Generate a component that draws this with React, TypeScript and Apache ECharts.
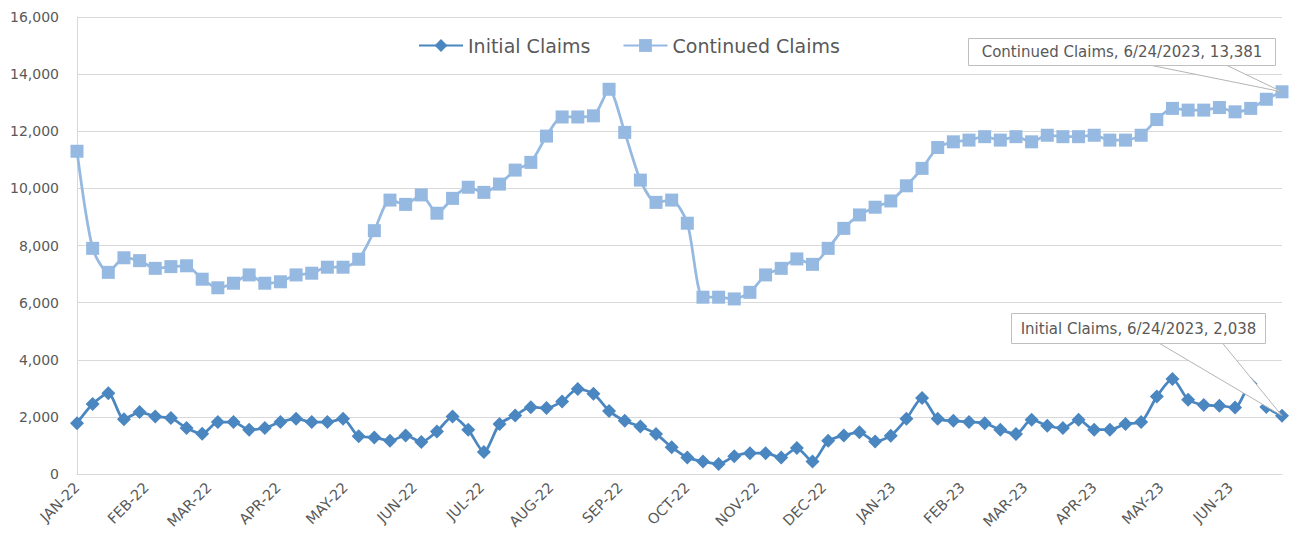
import React, { useEffect, useRef } from "react";
import * as echarts from "echarts";

// ---- data ----
const startDate = "2022-01-01";
const lastDateLabel = "6/24/2023";
const seriesNames = ["Initial Claims", "Continued Claims"];

const initialClaims = [
  1780, 2450, 2830, 1920, 2170, 2010, 1960, 1610, 1410, 1820,
  1820, 1550, 1610, 1820, 1930, 1820, 1820, 1930, 1320, 1280,
  1160, 1350, 1120, 1490, 2010, 1550, 770, 1750, 2050, 2340,
  2310, 2540, 2980, 2810, 2210, 1860, 1660, 1400, 940, 580,
  440, 350, 620, 730, 730, 580, 910, 440, 1160, 1350,
  1460, 1140, 1340, 1930, 2660, 1930, 1860, 1820, 1780, 1550,
  1400, 1900, 1690, 1610, 1900, 1550, 1550, 1750, 1820, 2710,
  3330, 2600, 2420, 2390, 2330, 3150, 2350, 2038,
];

const continuedClaims = [
  11300, 7900, 7060, 7570, 7470, 7200, 7260, 7290, 6820, 6520,
  6680, 6970, 6680, 6730, 6970, 7030, 7240, 7240, 7520, 8520,
  9590, 9440, 9770, 9130, 9650, 10040, 9860, 10150, 10640, 10910,
  11830, 12500, 12500, 12540, 13470, 11960, 10290, 9510, 9590, 8780,
  6190, 6190, 6130, 6360, 6970, 7200, 7530, 7340, 7900, 8600,
  9070, 9340, 9560, 10090, 10700, 11430, 11630, 11690, 11810, 11690,
  11810, 11630, 11860, 11810, 11810, 11860, 11690, 11690, 11860, 12410,
  12800, 12740, 12740, 12830, 12680, 12800, 13120, 13381,
];

const monthStarts = [
  "2022-01-01", "2022-02-01", "2022-03-01", "2022-04-01", "2022-05-01", "2022-06-01",
  "2022-07-01", "2022-08-01", "2022-09-01", "2022-10-01", "2022-11-01", "2022-12-01",
  "2023-01-01", "2023-02-01", "2023-03-01", "2023-04-01", "2023-05-01", "2023-06-01",
];
const monthLabels = [
  "JAN-22", "FEB-22", "MAR-22", "APR-22", "MAY-22", "JUN-22",
  "JUL-22", "AUG-22", "SEP-22", "OCT-22", "NOV-22", "DEC-22",
  "JAN-23", "FEB-23", "MAR-23", "APR-23", "MAY-23", "JUN-23",
];

const yMin = 0;
const yMax = 16000;
const yInterval = 2000;

// ---- helpers ----
const DAY = 86400000;
const dayOffset = (iso: string) =>
  Math.round((Date.parse(iso + "T00:00:00Z") - Date.parse(startDate + "T00:00:00Z")) / DAY);
const weekX = (i: number) => i * 7;
const monthOffsets = monthStarts.map(dayOffset);
const fmt = (v: number) => v.toLocaleString("en-US");

const FONT = '"DejaVu Sans", sans-serif';
const TEXT = "#595959";
const GRID = "#d9d9d9";
const C_INIT = "#4A86C0";
const C_CONT = "#95B9E1";

export default function App() {
  const ref = useRef<HTMLDivElement>(null);

  useEffect(() => {
    if (!ref.current) return;
    const chart = echarts.init(ref.current, undefined, { renderer: "svg" });
    const lastIdx = continuedClaims.length - 1;
    const xMax = weekX(lastIdx);

    chart.setOption({
      animation: false,
      backgroundColor: "#ffffff",
      textStyle: { fontFamily: FONT },
      grid: { left: 77, right: 7, top: 17, bottom: 70, containLabel: false, outerBoundsMode: "none" },
      legend: {
        left: 413,
        top: 31,
        itemWidth: 44,
        itemHeight: 16,
        itemGap: 32,
        textStyle: { fontSize: 19, color: TEXT, fontFamily: FONT },
        data: seriesNames,
      },
      xAxis: {
        type: "value",
        min: 0,
        max: xMax,
        axisLine: { show: true, lineStyle: { color: GRID, width: 1 } },
        axisTick: { show: false },
        splitLine: { show: false },
        axisLabel: {
          customValues: monthOffsets,
          rotate: 45,
          margin: 11,
          fontSize: 14.5,
          color: TEXT,
          fontFamily: FONT,
          formatter: (v: number) => {
            const k = monthOffsets.indexOf(Math.round(v));
            return k >= 0 ? monthLabels[k] : "";
          },
        },
      },
      yAxis: {
        type: "value",
        min: yMin,
        max: yMax,
        interval: yInterval,
        axisLine: { show: true, lineStyle: { color: GRID, width: 1 } },
        axisTick: { show: false },
        splitLine: { show: true, lineStyle: { color: GRID, width: 1 } },
        axisLabel: {
          margin: 18,
          fontSize: 14,
          color: TEXT,
          fontFamily: FONT,
          formatter: (v: number) => fmt(v),
        },
      },
      series: [
        {
          name: seriesNames[0],
          type: "line",
          data: initialClaims.map((v, i) => [weekX(i), v]),
          smooth: 0.25,
          symbol: "diamond",
          symbolSize: 14,
          lineStyle: { color: C_INIT, width: 2.75 },
          itemStyle: { color: C_INIT },
          z: 3,
        },
        {
          name: seriesNames[1],
          type: "line",
          data: continuedClaims.map((v, i) => [weekX(i), v]),
          smooth: 0.25,
          symbol: "rect",
          symbolSize: 13,
          lineStyle: { color: C_CONT, width: 2.75 },
          itemStyle: { color: C_CONT },
          z: 2,
        },
      ],
    });

    const tipC = chart.convertToPixel({ gridIndex: 0 }, [xMax, continuedClaims[lastIdx]]) as number[];
    const tipI = chart.convertToPixel({ gridIndex: 0 }, [xMax, initialClaims[lastIdx]]) as number[];

    const callout = (
      box: { x: number; y: number; w: number; h: number },
      baseL: number,
      baseR: number,
      tip: number[],
      text: string
    ) => [
      {
        type: "polygon",
        z: 100,
        shape: { points: [[baseL, box.y + box.h - 1], [tip[0], tip[1]], [baseR, box.y + box.h - 1]] },
        style: { fill: "#ffffff", stroke: "#b4b4b4", lineWidth: 1 },
      },
      {
        type: "rect",
        z: 101,
        shape: { x: box.x, y: box.y, width: box.w, height: box.h },
        style: { fill: "#ffffff", stroke: "#bfbfbf", lineWidth: 1 },
      },
      {
        type: "text",
        z: 102,
        x: box.x + box.w / 2,
        y: box.y + box.h / 2,
        style: {
          text,
          fill: TEXT,
          font: `15px ${FONT}`,
          textAlign: "center",
          textVerticalAlign: "middle",
        },
      },
    ];

    chart.setOption({
      graphic: [
        ...callout(
          { x: 968.5, y: 38.5, w: 307, h: 27 },
          1147,
          1225,
          tipC,
          `${seriesNames[1]}, ${lastDateLabel}, ${fmt(continuedClaims[lastIdx])}`
        ),
        ...callout(
          { x: 1011.5, y: 313.5, w: 254, h: 30 },
          1158,
          1222,
          tipI,
          `${seriesNames[0]}, ${lastDateLabel}, ${fmt(initialClaims[lastIdx])}`
        ),
      ],
    });

    return () => chart.dispose();
  }, []);

  return (
    <div
      ref={ref}
      style={{ position: "fixed", left: 0, top: 0, width: 1289, height: 544, background: "#fff" }}
    />
  );
}
